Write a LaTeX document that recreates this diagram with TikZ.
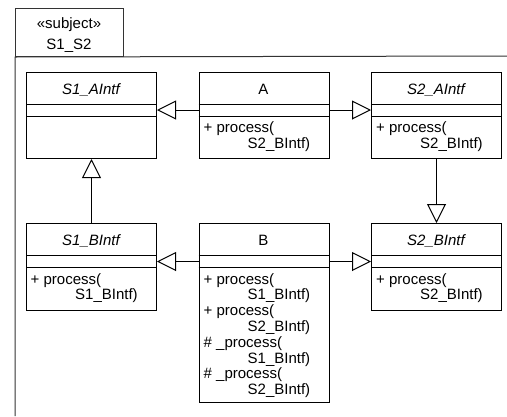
\documentclass[tikz,border=0pt]{standalone}
\usepackage{fontspec}
\setmainfont{Liberation Sans}
\usetikzlibrary{arrows.meta}
\newcommand{\umlfont}{\fontsize{15pt}{15.8pt}\selectfont}
\tikzset{
  umlbox/.style={draw, line width=1pt, inner sep=0pt, anchor=north west, minimum width=130pt},
  txt/.style={inner sep=0pt, anchor=base west, font=\umlfont},
  nm/.style={inner sep=0pt, anchor=base, font=\umlfont},
  gen/.style={-{Triangle[open,length=19pt,width=19pt]}, line width=1pt},
  frameline/.style={line width=1pt, draw=black!80},
}
\begin{document}
\begin{tikzpicture}[x=1pt,y=-1pt]
\useasboundingbox (0,0) rectangle (507,416);
% package tab and frame
\node[draw=black!80, line width=1pt, inner sep=0pt, anchor=north west, minimum width=108pt, minimum height=48.5pt] (tab) at (15,7.5) {};
\node[nm] (stereo) at (69,28.5) {«subject»};
\node[nm] (pkgname) at (69,49.5) {S1\_S2};
\coordinate (fbl) at (15,416);
\coordinate (ftr) at (507,56);
\draw[frameline] (fbl) -- (tab.south west) -- (ftr);

% boxes top row
\node[umlbox, minimum height=86pt] (s1a) at (26,72) {};
\node[umlbox, minimum height=86pt] (a) at (198.5,72) {};
\node[umlbox, minimum height=86pt] (s2a) at (371,72) {};
% boxes bottom row
\node[umlbox, minimum height=87pt] (s1b) at (26,223) {};
\node[umlbox, minimum height=178.5pt] (b) at (198.5,223) {};
\node[umlbox, minimum height=87pt] (s2b) at (371,223) {};

% compartment lines
\foreach \n in {s1a,a,s2a}{
  \draw[line width=1pt] (\n.west |- 0,104) -- (\n.east |- 0,104);
  \draw[line width=1pt] (\n.west |- 0,116) -- (\n.east |- 0,116);
}
\foreach \n in {s1b,b,s2b}{
  \draw[line width=1pt] (\n.west |- 0,255.5) -- (\n.east |- 0,255.5);
  \draw[line width=1pt] (\n.west |- 0,267) -- (\n.east |- 0,267);
}

% names
\node[nm] (s1an) at (91,94) {\itshape S1\_AIntf};
\node[nm] (an) at (263.5,94) {A};
\node[nm] (s2an) at (436,94) {\itshape S2\_AIntf};
\node[nm] (s1bn) at (91,245) {\itshape S1\_BIntf};
\node[nm] (bn) at (263.5,245) {B};
\node[nm] (s2bn) at (436,245) {\itshape S2\_BIntf};

% operations
\node[txt] (a1) at (203.5,132.5) {+ process(};
\node[txt] (a2) at (247.5,148.3) {S2\_BIntf)};
\node[txt] (s2a1) at (376,132.5) {+ process(};
\node[txt] (s2a2) at (420,148.3) {S2\_BIntf)};
\node[txt] (s1b1) at (30.5,284) {+ process(};
\node[txt] (s1b2) at (75,299.8) {S1\_BIntf)};
\node[txt] (s2b1) at (376,284) {+ process(};
\node[txt] (s2b2) at (420,299.8) {S2\_BIntf)};
\node[txt] (b1) at (203.5,284) {+ process(};
\node[txt] (b2) at (247.5,299.8) {S1\_BIntf)};
\node[txt] (b3) at (203.5,315.6) {+ process(};
\node[txt] (b4) at (247.5,331.4) {S2\_BIntf)};
\node[txt] (b5) at (203.5,347.2) {\# \_process(};
\node[txt] (b6) at (247.5,363) {S1\_BIntf)};
\node[txt] (b7) at (203.5,378.8) {\# \_process(};
\node[txt] (b8) at (247.5,394.6) {S2\_BIntf)};

% generalizations
\draw[gen] (a.west |- 0,110) -- (s1a.east |- 0,110);
\draw[gen] (a.east |- 0,110) -- (s2a.west |- 0,110);
\draw[gen] (b.west |- 0,261.5) -- (s1b.east |- 0,261.5);
\draw[gen] (b.east |- 0,261.5) -- (s2b.west |- 0,261.5);
\draw[gen] (s1b.north) -- (s1a.south);
\draw[gen] (s2a.south) -- (s2b.north);
\end{tikzpicture}
\end{document}
